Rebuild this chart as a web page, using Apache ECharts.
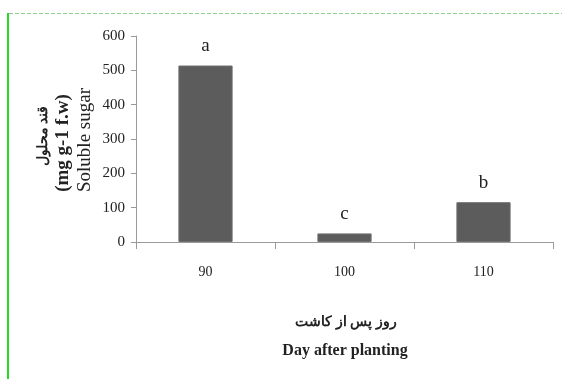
<!DOCTYPE html>
<html>
<head>
<meta charset="utf-8">
<script src="https://cdn.jsdelivr.net/npm/echarts@6/dist/echarts.min.js"></script>
<style>
  html, body { margin: 0; padding: 0; background: #fff; }
  #chart { width: 562px; height: 379px; }
</style>
</head>
<body>
<div id="chart"></div>
<script>
// Days after planting and soluble sugar content (mg g-1 f.w)
const days = ['90', '100', '110'];
const solubleSugar = [514, 25, 116];
const groupLetters = ['a', 'c', 'b'];
const yTicks = [0, 100, 200, 300, 400, 500, 600];

const serif = '"Liberation Serif", "DejaVu Serif", serif';
const chart = echarts.init(document.getElementById('chart'));

chart.setOption({
  backgroundColor: '#ffffff',
  animation: false,
  grid: { left: 136, right: 9, top: 36, bottom: 137 },
  xAxis: {
    type: 'category',
    data: days,
    axisLine: { lineStyle: { color: '#9a9a9a', width: 1 } },
    axisTick: { show: true, alignWithLabel: false, length: 7, lineStyle: { color: '#9a9a9a' } },
    axisLabel: { color: '#222', fontFamily: serif, fontSize: 14, margin: 23 }
  },
  yAxis: {
    type: 'value',
    min: yTicks[0],
    max: yTicks[yTicks.length - 1],
    interval: 100,
    splitLine: { show: false },
    axisLine: { show: true, lineStyle: { color: '#9a9a9a', width: 1 } },
    axisTick: { show: true, length: 5, lineStyle: { color: '#9a9a9a' } },
    axisLabel: { color: '#222', fontFamily: serif, fontSize: 15, margin: 11 }
  },
  series: [{
    type: 'bar',
    data: solubleSugar,
    barWidth: '39%',
    itemStyle: { color: '#5c5c5c', borderColor: '#6e6e6e', borderWidth: 1 },
    label: {
      show: true,
      position: 'top',
      distance: 10,
      fontFamily: serif,
      fontSize: 19,
      color: '#222',
      formatter: p => groupLetters[p.dataIndex]
    }
  }],
  graphic: [
    // frame lines
    { type: 'line', shape: { x1: 8, y1: 13, x2: 8, y2: 379 },
      style: { stroke: '#22dd22', lineWidth: 2 } },
    { type: 'line', shape: { x1: 9, y1: 13.5, x2: 562, y2: 13.5 },
      style: { stroke: '#8fd08f', lineWidth: 1, lineDash: [4, 2] } },
    // y-axis title (three rotated lines)
    { type: 'text', x: 43, y: 136, rotation: Math.PI / 2,
      style: { text: 'قند محلول', font: 'bold 14px ' + serif, fill: '#222',
               textAlign: 'center', textVerticalAlign: 'middle' } },
    { type: 'text', x: 63, y: 143, rotation: Math.PI / 2,
      style: { text: '(mg g-1 f.w)', font: 'bold 19px ' + serif, fill: '#222',
               textAlign: 'center', textVerticalAlign: 'middle' } },
    { type: 'text', x: 85, y: 140, rotation: Math.PI / 2,
      style: { text: 'Soluble sugar', font: '19px ' + serif, fill: '#222',
               textAlign: 'center', textVerticalAlign: 'middle' } },
    // x-axis title
    { type: 'text', x: 346, y: 322,
      style: { text: 'روز پس از کاشت', font: 'bold 14px ' + serif, fill: '#222',
               textAlign: 'center', textVerticalAlign: 'middle' } },
    { type: 'text', x: 345, y: 351,
      style: { text: 'Day after planting', font: 'bold 16px ' + serif, fill: '#222',
               textAlign: 'center', textVerticalAlign: 'middle' } }
  ]
});
</script>
</body>
</html>
